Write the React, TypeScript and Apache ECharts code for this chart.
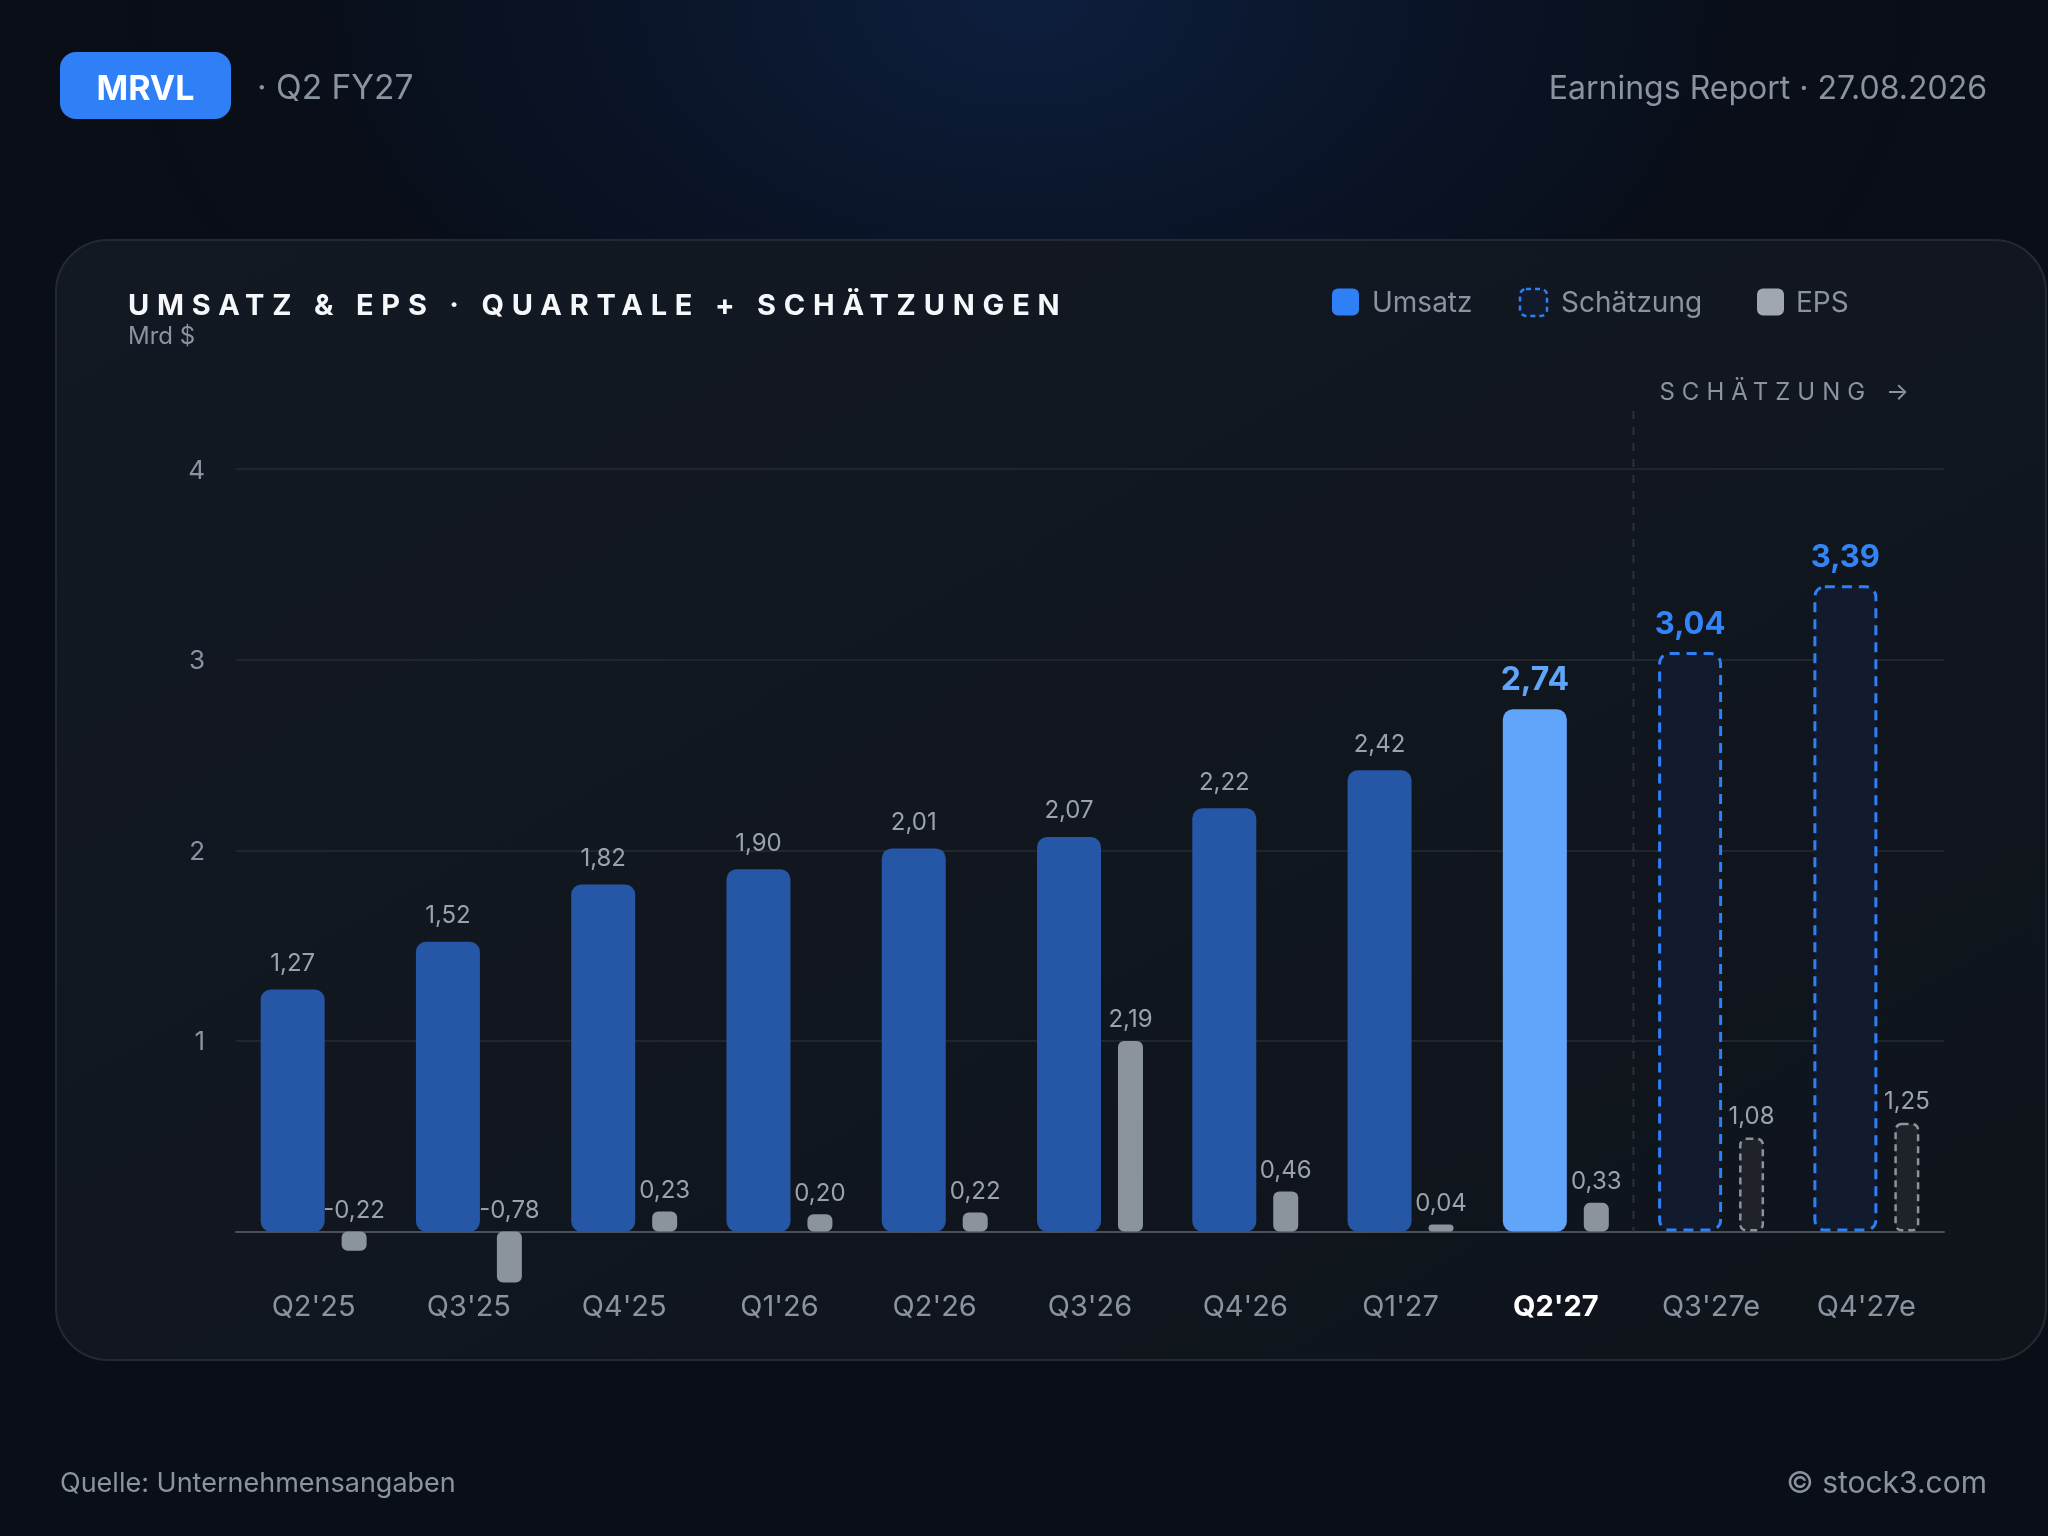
import React, { useEffect, useRef } from "react";
import * as echarts from "echarts";

// ---------- data ----------
const categories = ["Q2'25", "Q3'25", "Q4'25", "Q1'26", "Q2'26", "Q3'26", "Q4'26", "Q1'27", "Q2'27", "Q3'27e", "Q4'27e"];
const revenue = [1.27, 1.52, 1.82, 1.9, 2.01, 2.07, 2.22, 2.42, 2.74, 3.04, 3.39];
const eps = [-0.22, -0.78, 0.23, 0.2, 0.22, 2.19, 0.46, 0.04, 0.33, 1.08, 1.25];
const currentIndex = 8; // Q2'27
const firstEstimateIndex = 9; // Q3'27e onwards
const revAxisMin = -0.267;
const revAxisMax = 4;
const epsPerRevUnit = 2.19; // EPS value drawn as tall as 1 Mrd $

const FONT = "Inter, 'Noto Sans', sans-serif";
const GREY = "#8a93a0";
const fmt = (v: number) => v.toFixed(2).replace(".", ",");

export default function App() {
  const ref = useRef<HTMLDivElement>(null);

  useEffect(() => {
    const el = ref.current!;
    const chart = echarts.init(el, null, { renderer: "svg", width: 2048, height: 1536 });

    const revData = revenue.map((v, i) => {
      if (i >= firstEstimateIndex) {
        return {
          value: v,
          itemStyle: { color: "#111b2d", borderColor: "#2f80f7", borderWidth: 3, borderType: [10, 7] },
          label: { color: "#3384f7", fontWeight: "bold", fontSize: 31, distance: 14 },
        };
      }
      if (i === currentIndex) {
        return {
          value: v,
          itemStyle: { color: "#60a5fa" },
          label: { color: "#60a5fa", fontWeight: "bold", fontSize: 32, distance: 15 },
        };
      }
      return v;
    });

    const epsData = eps.map((v, i) => {
      if (i >= firstEstimateIndex) {
        return {
          value: v,
          itemStyle: { color: "#1f2229", borderColor: "#8b939d", borderWidth: 2.5, borderType: [7, 5] },
        };
      }
      return v;
    });

    const option: any = {
      animation: false,
      backgroundColor: "transparent",
      textStyle: { fontFamily: FONT },
      grid: { left: 236, right: 104, top: 469, bottom: 253.5, containLabel: false, outerBoundsMode: "none" },
      xAxis: {
        type: "category",
        data: categories.map((c, i) =>
          i === currentIndex ? { value: c, textStyle: { color: "#ffffff", fontWeight: "bold" } } : c
        ),
        axisLine: { onZero: true, lineStyle: { color: "#4a4f58", width: 2 } },
        axisTick: { show: false },
        axisLabel: { color: GREY, fontSize: 29, fontFamily: FONT, margin: 8 },
        splitLine: { show: false },
      },
      yAxis: [
        {
          type: "value",
          min: revAxisMin,
          max: revAxisMax,
          axisLine: { show: false },
          axisTick: { show: false },
          axisLabel: {
            color: GREY,
            fontSize: 26,
            fontFamily: FONT,
            margin: 31,
            showMinLabel: false,
            formatter: (v: number) => (v > 0 ? String(v) : ""),
          },
          splitLine: {
            show: true,
            lineStyle: {
              color: ["rgba(0,0,0,0)", "rgba(0,0,0,0)", "#262b34", "#262b34", "#262b34", "#262b34"],
              width: 1.5,
            },
          },
        },
        {
          type: "value",
          min: revAxisMin * epsPerRevUnit,
          max: revAxisMax * epsPerRevUnit,
          show: false,
          splitLine: { show: false },
        },
      ],
      series: [
        {
          name: "Umsatz",
          type: "bar",
          yAxisIndex: 0,
          barWidth: 64,
          barGap: "26.5%",
          data: revData,
          itemStyle: { color: "#2557a6", borderRadius: 10 },
          label: {
            show: true,
            position: "top",
            distance: 15,
            color: "#9aa2ad",
            fontSize: 24,
            fontFamily: FONT,
            formatter: (p: any) => fmt(p.value),
          },
        },
        {
          name: "EPS",
          type: "bar",
          yAxisIndex: 1,
          barWidth: 25,
          barGap: "26.5%",
          barMinHeight: 7,
          data: epsData,
          itemStyle: { color: "#8b939d", borderRadius: 6 },
          label: {
            show: true,
            position: "top",
            distance: 10,
            color: "#9aa2ad",
            fontSize: 24,
            fontFamily: FONT,
            formatter: (p: any) => fmt(p.value),
          },
        },
      ],
    };

    chart.setOption(option);

    const x8 = chart.convertToPixel({ xAxisIndex: 0 }, categories[currentIndex]) as number;
    const x9 = chart.convertToPixel({ xAxisIndex: 0 }, categories[firstEstimateIndex]) as number;
    const sepX = (x8 + x9) / 2;
    const zeroY = chart.convertToPixel({ yAxisIndex: 0 }, 0) as number;

    const txt = (text: string, x: number, y: number, size: number, fill: string, extra: any = {}) => ({
      type: "text",
      x,
      y,
      silent: true,
      style: {
        text,
        fill,
        fontSize: size,
        fontFamily: FONT,
        verticalAlign: "middle",
        align: "left",
        ...extra,
      },
    });

    const graphics: any[] = [
      {
        type: "rect",
        z: -100,
        silent: true,
        shape: { x: 56, y: 240, width: 1990, height: 1120, r: 52 },
        style: {
          fill: new echarts.graphic.LinearGradient(0, 0, 1, 1, [
            { offset: 0, color: "#131923" },
            { offset: 1, color: "#0f141b" },
          ]),
          stroke: "#242a34",
          lineWidth: 2,
        },
      },
      // header
      { type: "rect", silent: true, shape: { x: 60, y: 52, width: 171, height: 67, r: 16 }, style: { fill: "#2f80f7" } },
      txt("MRVL", 145.5, 87, 34, "#ffffff", { align: "center", fontWeight: "bold" }),
      txt("· Q2 FY27", 257, 87, 33.5, GREY),
      txt("Earnings Report · 27.08.2026", 1987, 87, 32, GREY, { align: "right" }),
      // title
      txt("UMSATZ & EPS · QUARTALE + SCHÄTZUNGEN", 128, 304, 29, "#f5f7fa", { fontWeight: "bold" }),
      txt("Mrd $", 128, 335, 24, GREY),
      // legend
      { type: "rect", silent: true, shape: { x: 1332, y: 288.5, width: 27, height: 27, r: 6 }, style: { fill: "#2f80f7" } },
      txt("Umsatz", 1372, 302, 28, GREY),
      {
        type: "rect",
        silent: true,
        shape: { x: 1520, y: 289, width: 27, height: 27, r: 6 },
        style: { fill: "#111b2d", stroke: "#2f80f7", lineWidth: 2.5, lineDash: [5, 4] },
      },
      txt("Schätzung", 1561, 302, 28, GREY),
      { type: "rect", silent: true, shape: { x: 1757, y: 288.5, width: 27, height: 27, r: 6 }, style: { fill: "#a0a7b1" } },
      txt("EPS", 1796, 302, 28, GREY),
      // estimate separator
      {
        type: "line",
        silent: true,
        z: 1,
        shape: { x1: sepX, y1: 411, x2: sepX, y2: zeroY },
        style: { stroke: "#2b3039", lineWidth: 2, lineDash: [8, 8] },
      },
      txt("SCHÄTZUNG →", sepX + 26, 391, 24, GREY),
      // footer
      txt("Quelle: Unternehmensangaben", 60, 1482, 27, GREY),
      txt("© stock3.com", 1987, 1482, 30, GREY, { align: "right" }),
    ];

    chart.setOption({ graphic: { elements: graphics } });

    const applySpacing = () => {
      el.querySelectorAll("text").forEach((t) => {
        const s = t.textContent || "";
        if (s.startsWith("UMSATZ")) t.setAttribute("letter-spacing", "7.8");
        else if (s.startsWith("SCHÄTZUNG")) t.setAttribute("letter-spacing", "7");
      });
    };
    applySpacing();
    chart.on("finished", applySpacing);
    const raf = requestAnimationFrame(() => {
      applySpacing();
      setTimeout(applySpacing, 50);
    });

    return () => {
      cancelAnimationFrame(raf);
      chart.dispose();
    };
  }, []);

  return (
    <div
      style={{
        position: "fixed",
        left: 0,
        top: 0,
        width: 2048,
        height: 1536,
        background:
          "radial-gradient(ellipse 950px 600px at 50% 0%, #0d1e3d 0%, #0b1529 40%, #090e18 78%, #0a0e16 100%)",
      }}
    >
      <div ref={ref} style={{ width: 2048, height: 1536 }} />
    </div>
  );
}
